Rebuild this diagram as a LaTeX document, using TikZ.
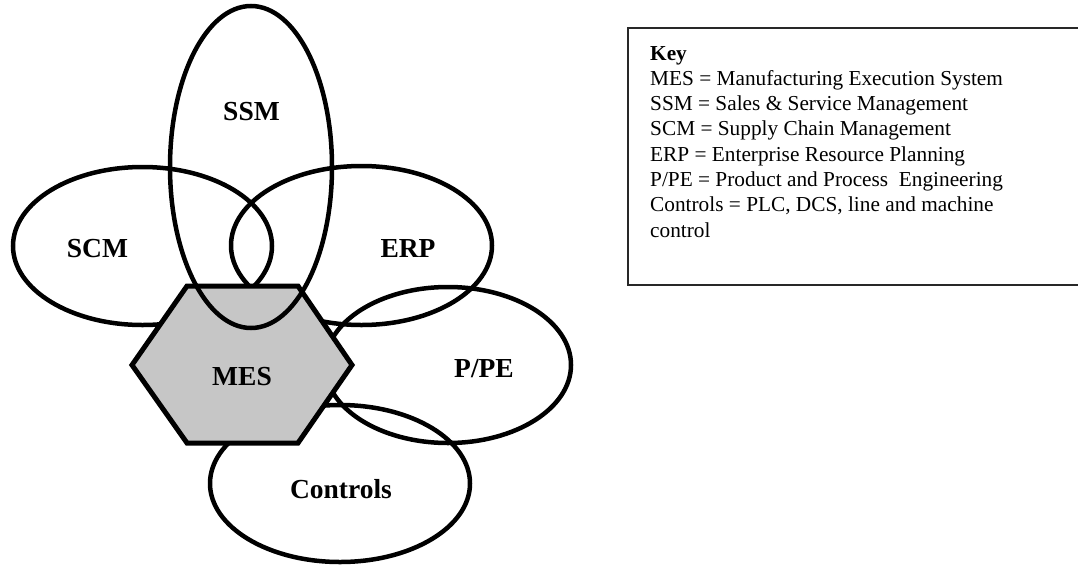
\documentclass[tikz,border=0pt]{standalone}
\usepackage{fontspec}
\setmainfont{Liberation Serif}
\definecolor{hexfill}{RGB}{198,198,198}
\definecolor{keyline}{RGB}{40,40,40}
\begin{document}
\begin{tikzpicture}[x=1pt,y=-1pt,
  ring/.style={draw=black,line width=4.5pt},
  hexshape/.style={draw=black,fill=hexfill,line width=5pt,line join=miter},
  area/.style={font=\fontsize{27.5}{30}\selectfont\bfseries,anchor=base,inner sep=0pt},
  keybox/.style={draw=keyline,line width=2pt},
  keyline/.style={font=\fontsize{21.3}{25.3}\selectfont,anchor=base west,inner sep=0pt}]
\useasboundingbox (0,0) rectangle (1078,565);
\clip (0,0) rectangle (1078,565);

% outer application areas (behind the MES hexagon)
\draw[ring] (142.5,246) ellipse [x radius=129.5,y radius=79];
\draw[ring] (361.5,245.5) ellipse [x radius=130.5,y radius=79.5];
\draw[ring] (448,365) ellipse [x radius=123,y radius=78];
\draw[ring] (340,483.5) ellipse [x radius=130,y radius=78.5];

% MES hexagon
\coordinate (h1) at (132,365);
\coordinate (h2) at (187,286);
\coordinate (h3) at (298,286);
\coordinate (h4) at (352,365);
\coordinate (h5) at (298,443);
\coordinate (h6) at (187,443);
\draw[hexshape] (h1) -- (h2) -- (h3) -- (h4) -- (h5) -- (h6) -- cycle;

% SSM sits on top of the hexagon
\draw[ring] (251,167) ellipse [x radius=81,y radius=161];

% area labels
\node[area] (ssm) at (251.5,120) {SSM};
\node[area] (scm) at (97.5,257) {SCM};
\node[area] (erp) at (408,257) {ERP};
\node[area] (mes) at (242,385) {MES};
\node[area] (ppe) at (484,377) {P/PE};
\node[area] (ctl) at (341,498) {Controls};

% key
\draw[keybox] (628,28) rectangle (1100,285);
\node[keyline] (k0) at (650,60) {\bfseries Key};
\node[keyline] (k1) at (650,85.3) {MES = Manufacturing Execution System};
\node[keyline] (k2) at (650,110.6) {SSM = Sales \& Service Management};
\node[keyline] (k3) at (650,135.9) {SCM = Supply Chain Management};
\node[keyline] (k4) at (650,161.2) {ERP = Enterprise Resource Planning};
\node[keyline] (k5) at (650,186.5) {P/PE = Product and Process\ \ Engineering};
\node[keyline] (k6) at (650,211.8) {Controls = PLC, DCS, line and machine};
\node[keyline] (k7) at (650,237.1) {control};
\end{tikzpicture}
\end{document}
